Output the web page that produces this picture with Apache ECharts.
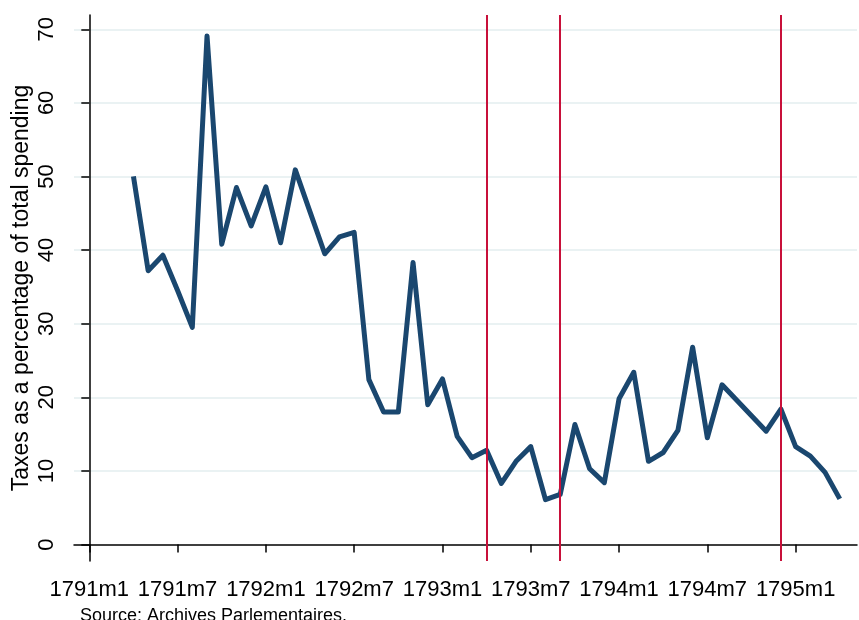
<!DOCTYPE html>
<html>
<head>
<meta charset="utf-8">
<script src="https://cdn.jsdelivr.net/npm/echarts@6/dist/echarts.min.js"></script>
<style>
  html, body { margin: 0; padding: 0; background: #fff; }
  #chart { width: 859px; height: 620px; }
</style>
</head>
<body>
<div id="chart"></div>
<script>

// months counted from 1791m1 (= 0)
var firstMonth = 3;   // 1791m4
var taxShare = [
  50.0, 37.2, 39.3, 34.5, 29.5, 69.1, 40.8, 48.5, 43.3, 48.6,
  41.0, 50.9, 45.2, 39.5, 41.8, 42.4, 22.4, 18.0, 18.0, 38.3,
  19.0, 22.5, 14.7, 11.8, 12.8, 8.3, 11.3, 13.3, 6.1, 6.8,
  16.3, 10.3, 8.4, 19.8, 23.4, 11.3, 12.5, 15.5, 26.8, 14.5,
  21.7, 19.6, 17.5, 15.4, 18.4, 13.3, 12.0, 9.8, 6.2
];

var xTicks = [0, 6, 12, 18, 24, 30, 36, 42, 48];
var yTicks = [0, 10, 20, 30, 40, 50, 60, 70];
var eventMonths = [27, 32, 47];   // 1793m4, 1793m9, 1794m12

var font = "Liberation Sans";
var gridColor = "#eaf2f3";

function monthLabel(v){
  var y = 1791 + Math.floor(v / 12);
  var m = v % 12 + 1;
  return y + "m" + m;
}

var lineData = taxShare.map(function(v, k){
  return [firstMonth + k, v];
});

var chart = echarts.init(document.getElementById("chart"));

var option = {
  animation: false,
  backgroundColor: "#fff",

  grid: {
    left: 74,
    right: 2,
    top: 15,
    bottom: 59,
    containLabel: false,
    outerBoundsMode: "none"
  },

  xAxis: {
    type: "value",
    min: -1.04,
    max: 52.17,
    axisLine: {
      show: true,
      lineStyle: { color: "#000", width: 1.5 }
    },
    axisTick: {
      show: true,
      customValues: xTicks,
      length: 8,
      lineStyle: { color: "#000", width: 1.5 }
    },
    axisLabel: {
      customValues: xTicks,
      formatter: function(v){ return monthLabel(v); },
      fontFamily: font,
      fontSize: 22,
      color: "#000",
      margin: 18
    },
    splitLine: { show: false }
  },

  yAxis: {
    type: "value",
    min: -2.24,
    max: 71.94,
    name: "Taxes as a percentage of total spending",
    nameLocation: "middle",
    nameRotate: 90,
    nameGap: 41,
    nameMoveOverlap: false,
    nameTextStyle: {
      fontFamily: font,
      fontSize: 23,
      color: "#000"
    },
    axisLine: {
      show: true,
      lineStyle: { color: "#000", width: 1.5 }
    },
    axisTick: {
      show: true,
      customValues: yTicks,
      length: 8,
      lineStyle: { color: "#000", width: 1.5 }
    },
    axisLabel: {
      customValues: yTicks,
      rotate: 90,
      fontFamily: font,
      fontSize: 22,
      color: "#000",
      margin: 16
    },
    splitLine: {
      show: true,
      lineStyle: {
        color: ["rgba(0,0,0,0)", gridColor, gridColor, gridColor, gridColor, gridColor, gridColor, gridColor],
        width: 2
      }
    }
  },

  graphic: [
    {
      type: "text",
      left: 80,
      top: 607,
      style: {
        text: "Source: Archives Parlementaires.",
        fontFamily: font,
        fontSize: 18,
        fill: "#000"
      }
    }
  ],

  series: [
    {
      type: "line",
      data: lineData,
      symbol: "none",
      lineStyle: {
        color: "#1a476f",
        width: 5,
        join: "round"
      },
      markLine: {
        silent: true,
        symbol: "none",
        label: { show: false },
        lineStyle: {
          color: "#c8103a",
          width: 2,
          type: "solid"
        },
        data: eventMonths.map(function(m){ return { xAxis: m }; })
      },
      z: 3
    }
  ]
};

chart.setOption(option);

</script>
</body>
</html>
